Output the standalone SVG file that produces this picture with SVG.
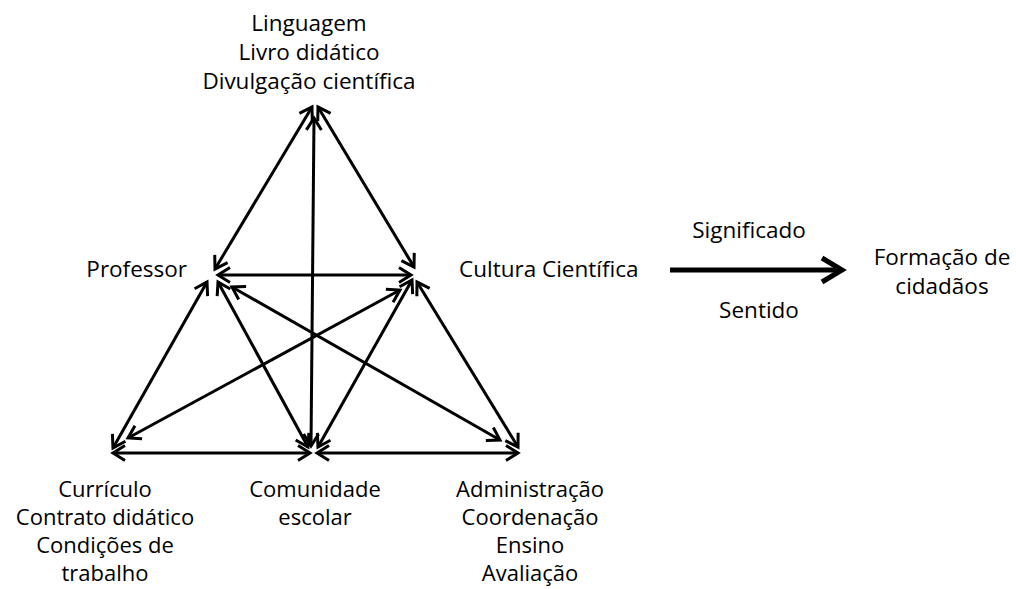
<svg xmlns="http://www.w3.org/2000/svg" width="1016" height="589" viewBox="0 0 1016 589">
<style>
  text { font-family: "Open Sans", "Noto Sans", "Liberation Sans", sans-serif; font-size: 22.5px; fill: #000; }
  .c { text-anchor: middle; }
  .e { text-anchor: end; }
  .b { font-size: 22px; }
  .ln { stroke: #000; stroke-width: 3; fill: none; marker-start: url(#ah); marker-end: url(#ah); }
  .big { stroke: #000; stroke-width: 5; fill: none; marker-end: url(#bh); }
</style>
<defs>
  <marker id="ah" markerUnits="userSpaceOnUse" viewBox="-16 -10 20 20" refX="0" refY="0" markerWidth="20" markerHeight="20" orient="auto-start-reverse" overflow="visible">
    <path d="M-12,-7.5 L0,0 L-12,7.5" fill="none" stroke="#000" stroke-width="3" stroke-linejoin="miter"/>
  </marker>
  <marker id="bh" markerUnits="userSpaceOnUse" viewBox="-26 -16 30 32" refX="0" refY="0" markerWidth="30" markerHeight="32" orient="auto" overflow="visible">
    <path d="M-20,-12 L0,0 L-20,12" fill="none" stroke="#000" stroke-width="5" stroke-linejoin="miter"/>
  </marker>
</defs>

<g id="connectors">
  <line class="ln" x1="312" y1="107" x2="215" y2="269"/>
  <line class="ln" x1="318" y1="107" x2="414" y2="267"/>
  <line class="ln" x1="314" y1="118" x2="311" y2="446"/>
  <line class="ln" x1="218" y1="275" x2="411" y2="275"/>
  <line class="ln" x1="207" y1="282" x2="113" y2="448"/>
  <line class="ln" x1="218" y1="282" x2="308" y2="447"/>
  <line class="ln" x1="232" y1="287" x2="500" y2="440"/>
  <line class="ln" x1="400" y1="290" x2="128" y2="438"/>
  <line class="ln" x1="412" y1="280" x2="318" y2="447"/>
  <line class="ln" x1="417" y1="282" x2="518" y2="447"/>
  <line class="ln" x1="113" y1="453" x2="310" y2="453"/>
  <line class="ln" x1="317" y1="453" x2="518" y2="453"/>
  <line class="big" x1="670" y1="270" x2="842" y2="270"/>
  <text class="c" x="749" y="238">Significado</text>
  <text class="c" x="759" y="318">Sentido</text>
</g>

<g id="node-top">
  <text class="c" x="309" y="31">Linguagem</text>
  <text class="c" x="309" y="60">Livro didático</text>
  <text class="c" x="309" y="89">Divulgação científica</text>
</g>

<g id="node-professor">
  <text class="e" x="187" y="277">Professor</text>
</g>

<g id="node-cultura">
  <text x="459" y="277">Cultura Científica</text>
</g>

<g id="node-curriculo">
  <text class="c b" x="105" y="497">Currículo</text>
  <text class="c b" x="105" y="525">Contrato didático</text>
  <text class="c b" x="105" y="553">Condições de</text>
  <text class="c b" x="105" y="581">trabalho</text>
</g>

<g id="node-comunidade">
  <text class="c b" x="315" y="497">Comunidade</text>
  <text class="c b" x="315" y="525">escolar</text>
</g>

<g id="node-administracao">
  <text class="c b" x="530" y="497">Administração</text>
  <text class="c b" x="530" y="525">Coordenação</text>
  <text class="c b" x="530" y="553">Ensino</text>
  <text class="c b" x="530" y="581">Avaliação</text>
</g>

<g id="node-formacao">
  <text class="c" x="942" y="265">Formação de</text>
  <text class="c" x="942" y="294">cidadãos</text>
</g>
</svg>
